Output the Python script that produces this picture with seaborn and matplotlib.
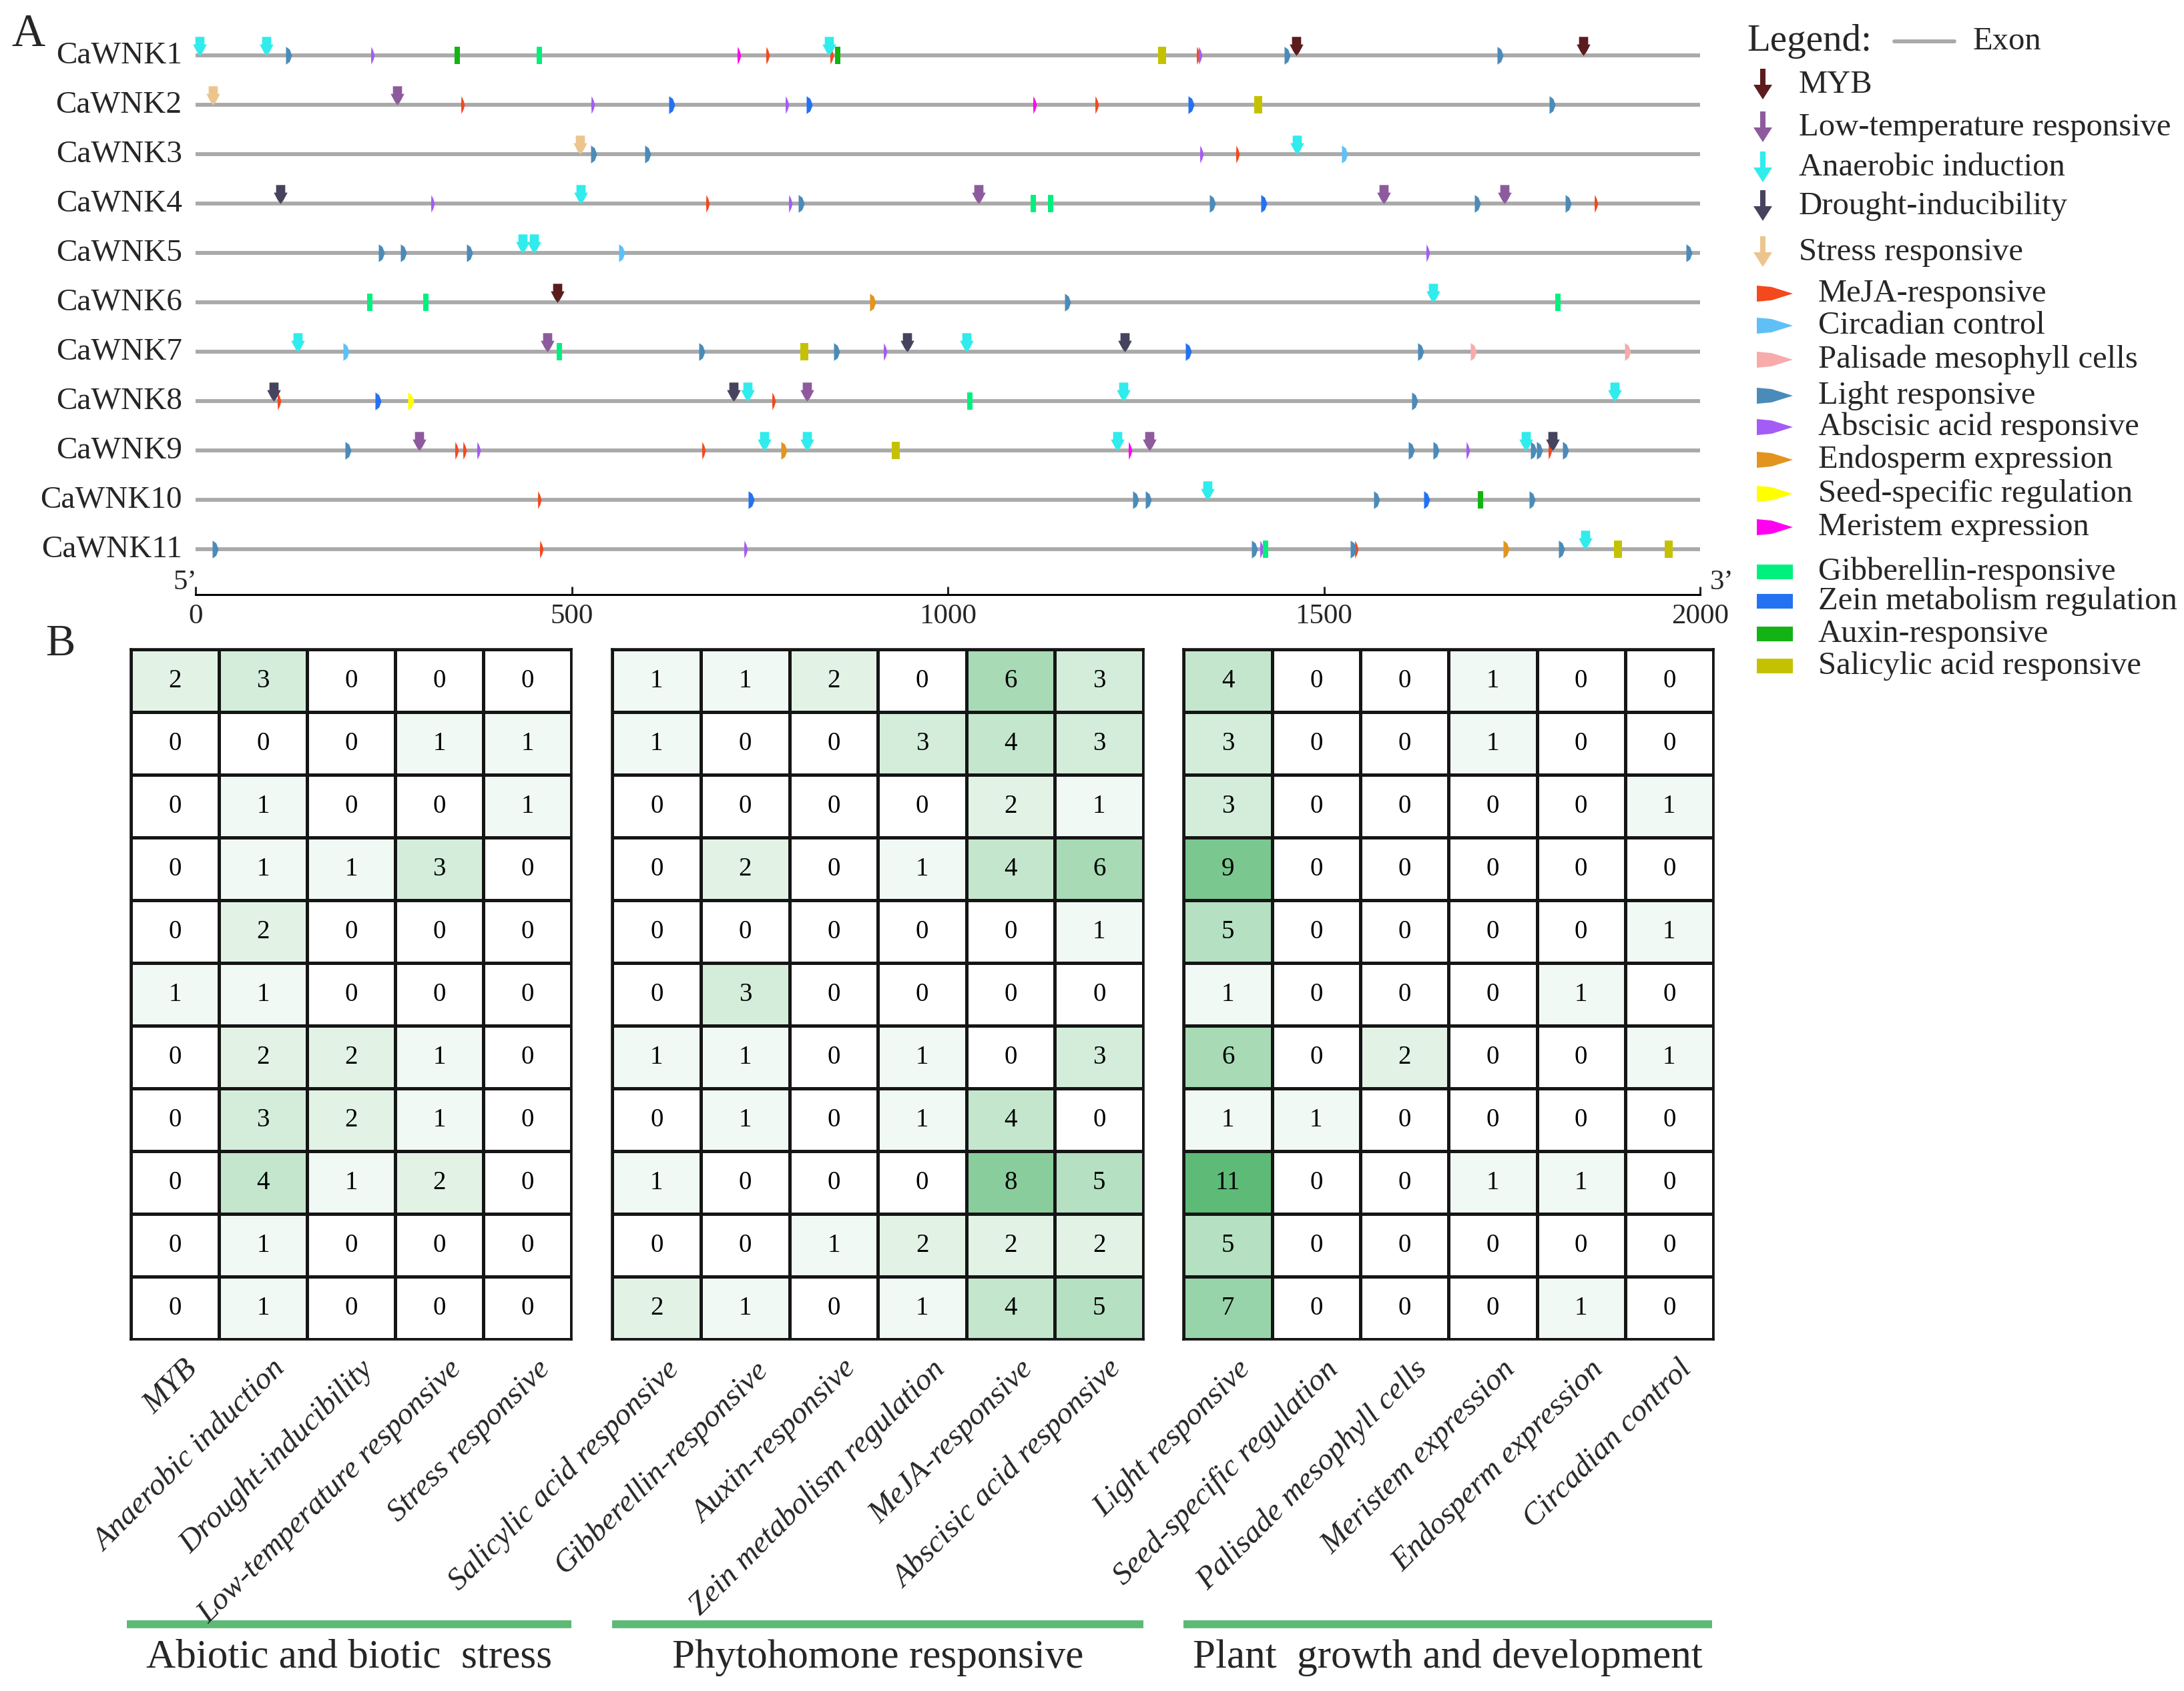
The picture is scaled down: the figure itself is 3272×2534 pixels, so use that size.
import numpy as np
import pandas as pd
import matplotlib
matplotlib.use('Agg')
import matplotlib.pyplot as plt
from matplotlib.colors import LinearSegmentedColormap
from matplotlib.patches import Polygon, Rectangle
import seaborn as sns

sns.set_style('white')
plt.rcParams['font.family'] = ['Liberation Serif', 'DejaVu Serif']

genes = ['CaWNK1', 'CaWNK2', 'CaWNK3', 'CaWNK4', 'CaWNK5', 'CaWNK6',
         'CaWNK7', 'CaWNK8', 'CaWNK9', 'CaWNK10', 'CaWNK11']
scale_ticks = [0, 500, 1000, 1500, 2000]

# cis-element sites: (gene number, position)
myb = [(1, 1463), (1, 1845), (6, 481)]
low_temp = [(2, 268), (4, 1041), (4, 1579), (4, 1740), (7, 468), (8, 813),
            (9, 297), (9, 1268)]
anaerobic = [(1, 5), (1, 94), (1, 842), (3, 1464), (4, 512), (5, 435), (5, 450),
             (6, 1645), (7, 136), (7, 1025), (8, 734), (8, 1233), (8, 1886),
             (9, 756), (9, 813), (9, 1225), (9, 1768), (10, 1345), (11, 1847)]
drought = [(4, 113), (7, 946), (7, 1235), (8, 104), (8, 715), (9, 1804)]
stress = [(2, 23), (3, 511)]
meja = [(1, 760), (1, 846), (1, 1333), (2, 355), (2, 1198), (3, 1385), (4, 681),
        (4, 1862), (8, 111), (8, 768), (9, 347), (9, 358), (9, 675), (9, 1800),
        (10, 457), (11, 460), (11, 1543)]
circadian = [(3, 1527), (5, 566), (7, 200)]
palisade = [(7, 1698), (7, 1903)]
light = [(1, 123), (1, 1451), (1, 1734), (2, 1803), (3, 529), (3, 601), (4, 805),
         (4, 1351), (4, 1704), (4, 1824), (5, 247), (5, 276), (5, 364), (5, 1985),
         (6, 1159), (7, 673), (7, 852), (7, 1628), (8, 1620), (9, 202), (9, 1616),
         (9, 1649), (9, 1778), (9, 1786), (9, 1821), (10, 1249), (10, 1266),
         (10, 1570), (10, 1776), (11, 26), (11, 1407), (11, 1539), (11, 1815)]
aba = [(1, 235), (1, 1335), (2, 528), (2, 786), (3, 1337), (4, 315), (4, 791),
       (5, 1638), (7, 917), (9, 376), (9, 1691), (11, 731), (11, 1417)]
endosperm = [(6, 900), (9, 782), (11, 1742)]
seed = [(8, 286)]
meristem = [(1, 722), (2, 1115), (9, 1242)]
gibberellin = [(1, 457), (4, 1114), (4, 1137), (6, 232), (6, 306), (6, 1811),
               (7, 484), (8, 1029), (11, 1422)]
zein = [(2, 633), (2, 815), (2, 1323), (4, 1420), (7, 1319), (8, 242),
        (10, 738), (10, 1636)]
auxin = [(1, 348), (1, 854), (10, 1708)]
salicylic = [(1, 1285), (2, 1413), (7, 809), (9, 931), (11, 1891), (11, 1958)]

# panel B counts
abiotic_cols = ['MYB', 'Anaerobic induction', 'Drought-inducibility',
                'Low-temperature responsive', 'Stress responsive']
abiotic_counts = [[2, 3, 0, 0, 0], [0, 0, 0, 1, 1], [0, 1, 0, 0, 1], [0, 1, 1, 3, 0],
                  [0, 2, 0, 0, 0], [1, 1, 0, 0, 0], [0, 2, 2, 1, 0], [0, 3, 2, 1, 0],
                  [0, 4, 1, 2, 0], [0, 1, 0, 0, 0], [0, 1, 0, 0, 0]]
hormone_cols = ['Salicylic acid responsive', 'Gibberellin-responsive', 'Auxin-responsive',
                'Zein metabolism regulation', 'MeJA-responsive', 'Abscisic acid responsive']
hormone_counts = [[1, 1, 2, 0, 6, 3], [1, 0, 0, 3, 4, 3], [0, 0, 0, 0, 2, 1],
                  [0, 2, 0, 1, 4, 6], [0, 0, 0, 0, 0, 1], [0, 3, 0, 0, 0, 0],
                  [1, 1, 0, 1, 0, 3], [0, 1, 0, 1, 4, 0], [1, 0, 0, 0, 8, 5],
                  [0, 0, 1, 2, 2, 2], [2, 1, 0, 1, 4, 5]]
growth_cols = ['Light responsive', 'Seed-specific regulation', 'Palisade mesophyll cells',
               'Meristem expression', 'Endosperm expression', 'Circadian control']
growth_counts = [[4, 0, 0, 1, 0, 0], [3, 0, 0, 1, 0, 0], [3, 0, 0, 0, 0, 1],
                 [9, 0, 0, 0, 0, 0], [5, 0, 0, 0, 0, 1], [1, 0, 0, 0, 1, 0],
                 [6, 0, 2, 0, 0, 1], [1, 1, 0, 0, 0, 0], [11, 0, 0, 1, 1, 0],
                 [5, 0, 0, 0, 0, 0], [7, 0, 0, 0, 1, 0]]
group_names = ['Abiotic and biotic  stress', 'Phytohomone responsive',
               'Plant  growth and development']

W, H = 3273, 2534
fig = plt.figure(figsize=(W / 100, H / 100), dpi=100)


def px_axes(x0, y0, x1, y1):
    return fig.add_axes([x0 / W, (H - y1) / H, (x1 - x0) / W, (y1 - y0) / H])


# overlay in pixel coordinates for labels, legend and group bars
ov = px_axes(0, 0, W, H)
ov.set_xlim(0, W)
ov.set_ylim(H, 0)
ov.axis('off')

# marker shapes
arrow_v = [(-0.48, 1), (0.48, 1), (0.48, 0.2), (0.72, 0.2), (0.3, -0.6), (0, -1),
           (-0.3, -0.6), (-0.72, 0.2), (-0.48, 0.2)]
thin_v = [(-0.16, 1), (0.06, 0.55), (0.22, 0), (0.06, -0.55), (-0.16, -1), (-0.2, 0)]
wide_v = [(-0.3, 1), (0.12, 0.7), (0.38, 0), (0.12, -0.7), (-0.3, -1)]
rect_v = [(-0.28, 1), (0.28, 1), (0.28, -1), (-0.28, -1)]
rectw_v = [(-0.45, 1), (0.45, 1), (0.45, -1), (-0.45, -1)]

elements = [
    ('MeJA-responsive', meja, '#f4481d', 'tri', thin_v),
    ('Circadian control', circadian, '#5ec0f7', 'tri', wide_v),
    ('Palisade mesophyll cells', palisade, '#f7abab', 'tri', wide_v),
    ('Light responsive', light, '#4b8bb9', 'tri', wide_v),
    ('Abscisic acid responsive', aba, '#a45cf6', 'tri', thin_v),
    ('Endosperm expression', endosperm, '#e3941f', 'tri', wide_v),
    ('Seed-specific regulation', seed, '#ffff00', 'tri', wide_v),
    ('Meristem expression', meristem, '#ff00f0', 'tri', thin_v),
    ('Gibberellin-responsive', gibberellin, '#00f07e', 'rect', rect_v),
    ('Zein metabolism regulation', zein, '#2472f2', 'rect', wide_v),
    ('Auxin-responsive', auxin, '#13b313', 'rect', rect_v),
    ('Salicylic acid responsive', salicylic, '#c4c200', 'rect', rectw_v),
    ('MYB', myb, '#5c1b1d', 'arrow', arrow_v),
    ('Low-temperature responsive', low_temp, '#8d5b9d', 'arrow', arrow_v),
    ('Anaerobic induction', anaerobic, '#30ecec', 'arrow', arrow_v),
    ('Drought-inducibility', drought, '#46435e', 'arrow', arrow_v),
    ('Stress responsive', stress, '#ecc58e', 'arrow', arrow_v),
]

# ---------------- panel A ----------------
ax_a = px_axes(293, 40, 2547, 891)
ax_a.set_xlim(0, 2000)
ax_a.set_ylim(10.92, -0.58)
ax_a.hlines(range(len(genes)), 0, 2000, color='#a9a9a9', lw=4.2, zorder=1)
for name, sites, color, kind, verts in elements:
    xs = np.array([p for g, p in sites])
    ys = np.array([g - 1 for g, p in sites], dtype=float)
    if kind == 'arrow':
        ys = ys - 0.19
        size = 420
    else:
        size = 370
    ax_a.scatter(xs, ys, marker=verts, s=size, color=color, linewidths=0,
                 zorder=3 if kind == 'arrow' else 2, clip_on=False)
for i, g in enumerate(genes):
    ax_a.text(-18, i, g, ha='right', va='center', fontsize=34)
for side in ['top', 'left', 'right']:
    ax_a.spines[side].set_visible(False)
ax_a.spines['bottom'].set_linewidth(2.2)
ax_a.spines['bottom'].set_color('black')
ax_a.set_yticks([])
ax_a.set_xticks(scale_ticks)
ax_a.tick_params(axis='x', direction='in', length=9, width=2.2, pad=10,
                 labelsize=31, bottom=True)
ax_a.patch.set_alpha(0)

ov.text(42, 52, 'A', fontsize=50, ha='center', va='center')
ov.text(90, 966, 'B', fontsize=48, ha='center', va='center')
ov.text(277, 873, '5\u2019', fontsize=31, ha='center', va='center')
ov.text(2580, 873, '3\u2019', fontsize=31, ha='center', va='center')

# ---------------- legend ----------------
ov.text(2617, 62, 'Legend:', fontsize=41, ha='left', va='center')
ov.plot([2838, 2928], [62, 62], color='#a9a9a9', lw=4.2, solid_capstyle='round')
ov.text(2956, 62, 'Exon', fontsize=35, ha='left', va='center')
leg_rows = {'MYB': 127, 'Low-temperature responsive': 191, 'Anaerobic induction': 251,
            'Drought-inducibility': 309, 'Stress responsive': 378,
            'MeJA-responsive': 440, 'Circadian control': 488,
            'Palisade mesophyll cells': 539, 'Light responsive': 593,
            'Abscisic acid responsive': 640, 'Endosperm expression': 689,
            'Seed-specific regulation': 740, 'Meristem expression': 790,
            'Gibberellin-responsive': 857, 'Zein metabolism regulation': 901,
            'Auxin-responsive': 950, 'Salicylic acid responsive': 998}
for name, sites, color, kind, verts in elements:
    y = leg_rows[name]
    if kind == 'arrow':
        ov.arrow(2641, y - 24, 0, 46, width=8, head_width=28, head_length=22,
                 length_includes_head=True, color=color, lw=0)
        ov.text(2695, y, name, fontsize=35, ha='left', va='center')
    elif kind == 'tri':
        ov.add_patch(Polygon([(2632, y - 12), (2654, y - 10), (2686, y),
                              (2654, y + 10), (2632, y + 12)], closed=True,
                             color=color, lw=0))
        ov.text(2724, y, name, fontsize=35, ha='left', va='center')
    else:
        ov.add_patch(Rectangle((2632, y - 11), 54, 22, color=color, lw=0))
        ov.text(2724, y, name, fontsize=35, ha='left', va='center')

# ---------------- panel B ----------------
cmap = LinearSegmentedColormap.from_list('wgreen', ['#ffffff', '#5dbb77'])
groups = [(abiotic_cols, abiotic_counts, 196, 856),
          (hormone_cols, hormone_counts, 917.5, 1713),
          (growth_cols, growth_counts, 1773.5, 2567)]
bar_x = [(190, 856), (917, 1713), (1773, 2565)]
top, bottom = 973, 2007
for (cols, counts, x0, x1), (bx0, bx1), gname in zip(groups, bar_x, group_names):
    ax = px_axes(x0, top, x1, bottom)
    df = pd.DataFrame(counts, columns=cols, index=genes)
    sns.heatmap(df, ax=ax, cmap=cmap, vmin=0, vmax=11, annot=True, fmt='d',
                annot_kws={'fontsize': 28, 'color': 'black'}, cbar=False,
                linewidths=2.4, linecolor='#151515',
                xticklabels=False, yticklabels=False)
    for s in ax.spines.values():
        s.set_visible(True)
        s.set_linewidth(2.6)
        s.set_color('#151515')
    for j, c in enumerate(cols):
        ax.text(j + 0.5 + 0.32, len(genes) + 0.25, c, rotation=45, ha='right',
                va='top', fontsize=34, fontstyle='italic', clip_on=False)
    ov.plot([bx0, bx1], [2434, 2434], color='#5dba76', lw=8.5, solid_capstyle='butt')
    ov.text((bx0 + bx1) / 2, 2484, gname, fontsize=44, ha='center', va='center')

fig.savefig('out.png', dpi=100)
